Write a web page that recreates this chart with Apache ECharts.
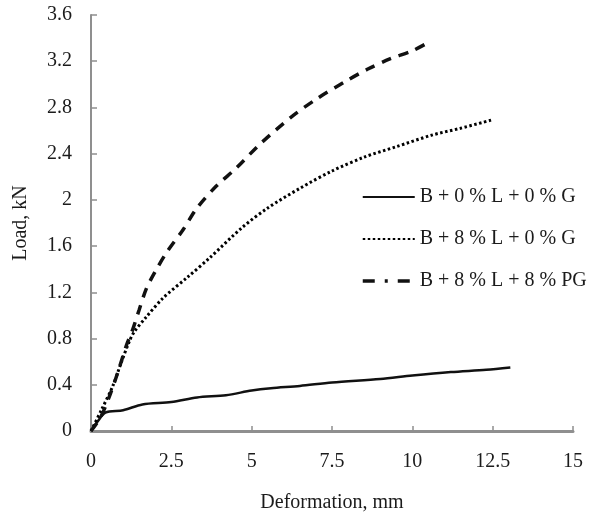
<!DOCTYPE html>
<html>
<head>
<meta charset="utf-8">
<script src="https://cdn.jsdelivr.net/npm/echarts@6/dist/echarts.min.js"></script>
<style>
  html, body { margin: 0; padding: 0; background: #fff; }
  #chart { width: 597px; height: 518px; }
</style>
</head>
<body>
<div id="chart"></div>
<script>
// Load–deformation curves for three mixes
var xTicks = { min: 0, max: 15, step: 2.5 };
var yTicks = { min: 0, max: 3.6, step: 0.4 };

var seriesNames = ['B + 0 % L + 0 % G', 'B + 8 % L + 0 % G', 'B + 8 % L + 8 % PG'];

// [deformation (mm), load (kN)]
var plain = [
  [0, 0], [0.2, 0.08], [0.45, 0.16], [1.0, 0.18], [1.6, 0.23], [2.5, 0.25],
  [3.3, 0.29], [4.2, 0.31], [5.0, 0.35], [5.6, 0.37], [6.5, 0.39], [7.5, 0.42],
  [9.0, 0.45], [10.0, 0.48], [11.2, 0.51], [12.3, 0.53], [13.05, 0.55]
];
var lime = [
  [0, 0], [0.32, 0.18], [0.68, 0.39], [0.95, 0.6], [1.2, 0.78], [1.35, 0.86],
  [1.7, 0.98], [2.24, 1.15], [3.0, 1.33], [3.7, 1.5], [4.7, 1.76], [5.5, 1.93],
  [6.5, 2.1], [7.5, 2.25], [8.5, 2.37], [9.5, 2.46], [10.6, 2.56], [11.5, 2.62],
  [12.45, 2.69]
];
var limePG = [
  [0, 0], [0.3, 0.12], [0.6, 0.32], [0.85, 0.52], [1.1, 0.74], [1.3, 0.88],
  [1.5, 1.05], [1.72, 1.23], [2.0, 1.38], [2.34, 1.54], [2.86, 1.74], [3.3, 1.93],
  [3.9, 2.12], [4.5, 2.27], [5.25, 2.48], [6.2, 2.71], [7.0, 2.87], [7.95, 3.03],
  [8.6, 3.13], [9.3, 3.22], [10.0, 3.29], [10.55, 3.37]
];

var font = 'Liberation Serif, Times New Roman, serif';
var ink = '#1b1b1b';

var chart = echarts.init(document.getElementById('chart'), null, { renderer: 'canvas' });

chart.setOption({
  backgroundColor: '#fff',
  animation: false,
  textStyle: { fontFamily: font, color: ink },
  grid: { left: 91, right: 24, top: 15, bottom: 85 },
  legend: {
    orient: 'vertical',
    left: 356,
    top: 182,
    itemWidth: 52,
    itemHeight: 14,
    itemGap: 22,
    itemStyle: { color: 'transparent', borderWidth: 0, opacity: 0 },
    textStyle: { fontFamily: font, fontSize: 20, color: ink },
    data: [
      { name: seriesNames[0] },
      { name: seriesNames[1] },
      { name: seriesNames[2], lineStyle: { type: [12, 10, 3, 10], width: 3.5 } }
    ]
  },
  xAxis: {
    type: 'value',
    min: xTicks.min,
    max: xTicks.max,
    interval: xTicks.step,
    name: 'Deformation, mm',
    nameLocation: 'middle',
    nameGap: 62,
    nameTextStyle: { fontFamily: font, fontSize: 20, color: ink },
    axisLine: { show: true, lineStyle: { color: '#8f8f8f', width: 3 } },
    axisTick: { show: true, inside: true, length: 5, lineStyle: { color: '#8f8f8f', width: 1.5 } },
    axisLabel: { margin: 21, fontFamily: font, fontSize: 20, color: ink },
    splitLine: { show: false }
  },
  yAxis: {
    type: 'value',
    min: yTicks.min,
    max: yTicks.max,
    interval: yTicks.step,
    name: 'Load, kN',
    nameLocation: 'middle',
    nameGap: 60,
    nameTextStyle: { fontFamily: font, fontSize: 20, color: ink },
    axisLine: { show: true, lineStyle: { color: '#8f8f8f', width: 2 } },
    axisTick: { show: true, inside: true, length: 6, lineStyle: { color: '#8f8f8f', width: 1.5 } },
    axisLabel: { margin: 19, fontFamily: font, fontSize: 20, color: ink },
    splitLine: { show: false }
  },
  series: [
    {
      name: seriesNames[0],
      type: 'line',
      data: plain,
      showSymbol: false,
      symbol: 'none',
      smooth: 0.3,
      lineStyle: { color: '#111', width: 2.5, type: 'solid' },
      itemStyle: { color: '#111' }
    },
    {
      name: seriesNames[1],
      type: 'line',
      data: lime,
      showSymbol: false,
      symbol: 'none',
      smooth: 0.3,
      lineStyle: { color: '#000', width: 3, type: [2.5, 2.5] },
      itemStyle: { color: '#000' }
    },
    {
      name: seriesNames[2],
      type: 'line',
      data: limePG,
      showSymbol: false,
      symbol: 'none',
      smooth: 0.3,
      lineStyle: { color: '#111', width: 3.5, type: [10, 8] },
      itemStyle: { color: '#111' }
    }
  ]
});
</script>
</body>
</html>
